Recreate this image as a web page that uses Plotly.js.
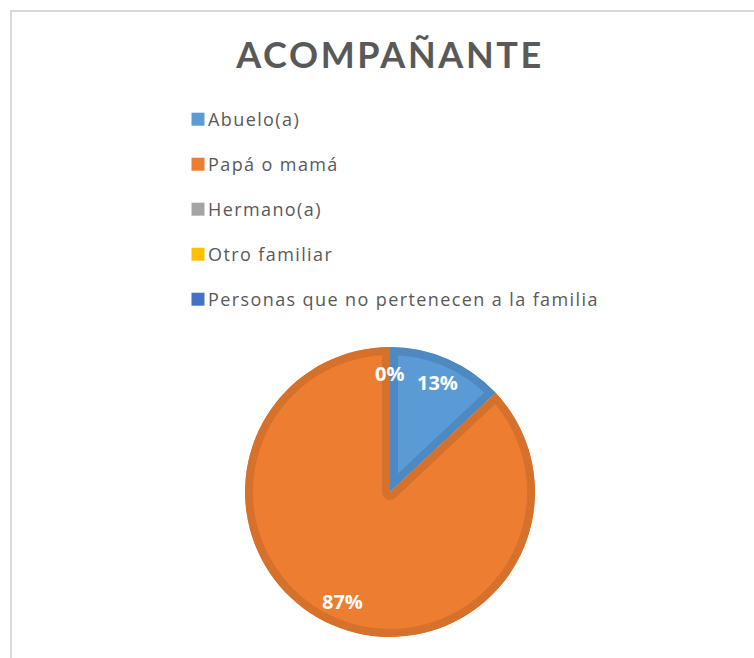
<!DOCTYPE html>
<html>
<head>
<meta charset="utf-8">
<script src="https://cdn.plot.ly/plotly-3.0.1.min.js"></script>
<style>
  html, body { margin: 0; padding: 0; background: #fff; }
  #chart { width: 754px; height: 658px; position: relative; }
  .gtitle { letter-spacing: 2.6px; }
  .legendtext { letter-spacing: 1.4px; }
  .legend .legendpoints { transform: translate(10px, 0px); }
  #frame { position: absolute; left: 10px; top: 10px; width: 800px; height: 700px;
           border-left: 2px solid #D9D9D9; border-top: 2px solid #D9D9D9;
           pointer-events: none; z-index: 5; }
</style>
</head>
<body>
<div id="chart"><div id="frame"></div></div>
<script>
// ---- data ----
const categories = ['Abuelo(a)', 'Papá o mamá', 'Hermano(a)', 'Otro familiar', 'Personas que no pertenecen a la familia'];
const shares = [13, 87, 0, 0, 0];
const fillColors = ['#5B9BD5', '#ED7D31', '#A5A5A5', '#FFC000', '#4472C4'];
const edgeColors = ['#4E89C2', '#D6712C', '#939393', '#E3AB00', '#3C66B1'];
const chartTitle = 'ACOMPAÑANTE';

// ---- geometry of the pie (pixels in the 754x658 page) ----
const W = 754, H = 658;
const pieCx = 390, pieCy = 492, pieR = 145, edgeW = 16;
const domX = [(pieCx - pieR) / W, (pieCx + pieR) / W];
const domY = [(H - pieCy - pieR) / H, (H - pieCy + pieR) / H];

const total = shares.reduce((a, b) => a + b, 0);

const traces = [{
  type: 'pie',
  labels: categories,
  values: shares,
  sort: false,
  direction: 'clockwise',
  rotation: 0,
  textinfo: 'none',
  hoverinfo: 'label+percent',
  showlegend: false,
  marker: { colors: fillColors, line: { color: edgeColors, width: shares.map(v => v > 0 ? edgeW : 0) } },
  domain: { x: domX, y: domY }
}];

// legend entries (one per category, so the item spacing can be set)
categories.forEach((c, i) => {
  traces.push({
    type: 'scatter', mode: 'markers', x: [null], y: [null],
    name: c, legendgroup: 'g' + i, showlegend: true, hoverinfo: 'skip',
    marker: { symbol: 'square', size: 13, color: fillColors[i] }
  });
});

// percentage labels placed at 82% of the radius, at each slice's mid-angle
const annotations = [];
let cum = 0;
const seen = {};
shares.forEach((v, i) => {
  const mid = (cum + v / 2) / total;
  cum += v;
  const th = 2 * Math.PI * mid;
  const rr = 0.82 * pieR;
  const px = pieCx + rr * Math.sin(th);
  const py = pieCy - rr * Math.cos(th);
  const key = Math.round(px) + '_' + Math.round(py);
  if (seen[key]) return;
  seen[key] = true;
  annotations.push({
    xref: 'paper', yref: 'paper', x: px / W, y: 1 - py / H,
    xanchor: 'center', yanchor: 'middle', showarrow: false,
    text: Math.round(v / total * 100) + '%',
    font: { family: 'Open Sans, sans-serif', size: 20, color: '#FFFFFF', weight: 'bold' }
  });
});

const layout = {
  width: W, height: H,
  margin: { l: 0, r: 0, t: 0, b: 0 },
  paper_bgcolor: '#FFFFFF', plot_bgcolor: '#FFFFFF',
  title: {
    text: chartTitle,
    font: { family: 'Lato, sans-serif', size: 36, color: '#595959', weight: 'bold' },
    x: 390 / W, xanchor: 'center', xref: 'container',
    y: 1 - 55.5 / H, yanchor: 'middle', yref: 'container'
  },
  xaxis: { visible: false }, yaxis: { visible: false },
  showlegend: true,
  legend: {
    orientation: 'v', x: 168 / W, xanchor: 'left', y: 1 - 101 / H, yanchor: 'top',
    font: { family: 'Open Sans, sans-serif', size: 18, color: '#595959' },
    tracegroupgap: 18.6, bgcolor: 'rgba(0,0,0,0)', borderwidth: 0
  },
  annotations: annotations
};

Plotly.newPlot('chart', traces, layout, { displayModeBar: false, staticPlot: true }).then(gd => {
  // keep each slice's edge inside its own slice (inner border, as in the reference)
  const svg = gd.querySelector('svg.main-svg');
  let defs = svg.querySelector('defs');
  const ns = 'http://www.w3.org/2000/svg';
  gd.querySelectorAll('.pielayer path.surface').forEach((p, i) => {
    const d = p.getAttribute('d');
    if (!d) return;
    const cp = document.createElementNS(ns, 'clipPath');
    cp.setAttribute('id', 'sliceclip' + i);
    const cpath = document.createElementNS(ns, 'path');
    cpath.setAttribute('d', d);
    const tr = p.getAttribute('transform');
    if (tr) cpath.setAttribute('transform', tr);
    cp.appendChild(cpath);
    defs.appendChild(cp);
    p.setAttribute('clip-path', 'url(#sliceclip' + i + ')');
  });
});
</script>
</body>
</html>
